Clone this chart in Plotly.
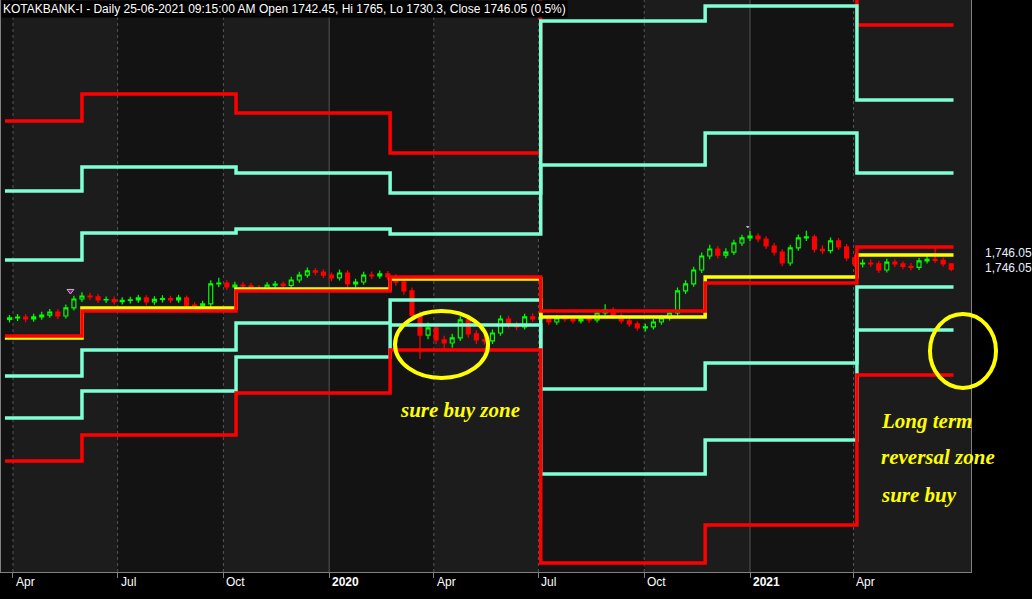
import plotly.graph_objects as go
import pandas as pd

# ---------------- data ----------------
title_text = "KOTAKBANK-I - Daily 25-06-2021 09:15:00 AM Open 1742.45, Hi 1765, Lo 1730.3, Close 1746.05 (0.5%)"

# weekly candles (Fridays) from 2019-03-29 to 2021-06-25
candle_dates = pd.date_range("2019-03-29", periods=118, freq="7D")
opens = [1330,1342,1348,1333,1350,1366,1391,1358,1425,1499,
         1524,1516,1491,1494,1478,1487,1491,1508,1474,1496,
         1503,1491,1508,1449,1441,1458,1624,1632,1599,1615,
         1608,1591,1582,1615,1622,1611,1657,1698,1732,1723,
         1698,1674,1715,1624,1640,1698,1690,1707,1682,1640,
         1566,1366,1200,1259,1159,1134,1176,1325,1209,1159,
         1151,1217,1333,1283,1267,1350,1333,1346,1308,1342,
         1333,1317,1333,1325,1383,1408,1358,1317,1292,1259,
         1267,1308,1342,1383,1566,1624,1740,1856,1914,1864,
         1889,1964,2006,2022,1997,1939,1889,1798,1923,2006,
         2014,1912,1900,1981,1931,1840,1790,1798,1790,1740,
         1806,1790,1770,1762,1815,1828,1820,1790]
closes = [1342,1348,1333,1350,1366,1391,1358,1425,1499,1524,
          1516,1491,1494,1478,1487,1491,1508,1474,1496,1503,
          1491,1508,1449,1441,1458,1624,1632,1599,1615,1608,
          1591,1582,1615,1622,1611,1657,1698,1732,1723,1698,
          1674,1715,1624,1640,1698,1690,1707,1682,1640,1566,
          1366,1200,1259,1159,1134,1176,1325,1209,1159,1151,
          1217,1333,1283,1267,1350,1333,1346,1308,1342,1333,
          1317,1333,1325,1383,1408,1358,1317,1292,1259,1267,
          1308,1342,1383,1566,1624,1740,1856,1914,1864,1889,
          1964,2006,2022,1997,1939,1889,1798,1923,2006,2014,
          1912,1900,1981,1931,1840,1790,1798,1790,1740,1806,
          1790,1770,1762,1815,1828,1820,1790,1746.05]
highs = [1367,1375,1373,1377,1393,1417,1415,1453,1527,1555,
         1551,1540,1519,1520,1513,1517,1535,1531,1521,1530,
         1527,1535,1529,1473,1485,1655,1675,1655,1643,1641,
         1631,1615,1641,1649,1645,1683,1725,1760,1757,1745,
         1720,1743,1737,1667,1725,1727,1735,1731,1705,1663,
         1595,1395,1305,1290,1195,1210,1355,1350,1240,1195,
         1245,1365,1360,1310,1377,1380,1373,1367,1367,1365,
         1355,1357,1355,1407,1455,1430,1380,1337,1313,1293,
         1333,1365,1407,1595,1655,1767,1885,1950,1940,1920,
         1990,2033,2064,2045,2020,1963,1913,1950,2035,2065,
         2035,1945,2010,2005,1955,1865,1830,1827,1815,1833,
         1830,1813,1797,1840,1853,1935,1841,1765]
lows = [1303,1317,1307,1310,1327,1343,1333,1337,1403,1475,
        1490,1465,1465,1453,1453,1461,1467,1448,1451,1471,
        1465,1467,1423,1413,1415,1435,1597,1573,1575,1581,
        1565,1555,1560,1590,1585,1589,1635,1675,1697,1673,
        1647,1653,1597,1599,1617,1665,1667,1657,1610,1535,
        1325,1001,1165,1125,1085,1095,1150,1180,1125,1120,
        1125,1195,1255,1240,1245,1310,1307,1283,1285,1310,
        1293,1295,1300,1303,1360,1335,1293,1267,1235,1230,
        1245,1285,1320,1363,1541,1600,1715,1830,1835,1837,
        1865,1940,1980,1970,1915,1860,1770,1775,1900,1980,
        1885,1870,1877,1905,1815,1765,1760,1765,1715,1720,
        1765,1745,1737,1740,1793,1797,1767,1730.3]

# pivot periods (start dates) and end date
period_starts = ["2019-03-25", "2019-05-31", "2019-10-12", "2020-02-23",
                 "2020-07-03", "2020-11-23", "2021-04-04"]
period_end = "2021-06-27"
r3 = [2977, 3201, 3043, 2711, 5019, 4977, 3774]
r2 = [2396, 2595, 2545, 2379, 3807, 3931, 3151]
r1 = [1823, 2047, 2080, 2039, 2612, 2877, 2545]
pivot_red = [1192, 1400, 1566, 1682, 1400, 1632, 1931]
pivot_yellow = [1176, 1425, 1582, 1665, 1350, 1682, 1864]
s1 = [860, 1076, 1300, 1491, 752, 968, 1599]
s2 = [512, 736, 1018, 1283, 47, 329, 1242]
s3 = [155, 371, 719, 1076, -692, -377, 868]

tick_dates = ["2019-04-01", "2019-07-01", "2019-10-01", "2020-01-01", "2020-04-01",
              "2020-07-01", "2020-10-01", "2021-01-01", "2021-04-01"]
tick_labels = ["Apr", "Jul", "Oct", "<b>2020</b>", "Apr", "Jul", "Oct", "<b>2021</b>", "Apr"]
light_quarters = [("2019-04-01", "2019-07-01"), ("2019-10-01", "2020-01-01"),
                  ("2020-04-01", "2020-07-01"), ("2020-10-01", "2021-01-01"),
                  ("2021-04-01", "2021-07-15")]
marker_dates = ["2019-05-21", "2020-12-30"]
marker_prices = [1566, 2097]
last_close_label = "1,746.05"

x_range = ["2019-03-21 14:00", "2021-07-12 05:00"]
y_range = [-767, 3981]

# ---------------- figure ----------------
RED = "#FF0000"
CYAN = "#7FFFD4"
YELLOW = "#FFFF00"

fig = go.Figure()

xs = period_starts + [period_end]
levels = [(r3, RED), (r2, CYAN), (r1, CYAN), (s1, CYAN), (s2, CYAN), (s3, RED),
          (pivot_yellow, YELLOW), (pivot_red, RED)]
for vals, col in levels:
    fig.add_trace(go.Scatter(x=xs, y=vals + [vals[-1]], mode="lines",
                             line=dict(color=col, width=3.5, shape="hv"),
                             hoverinfo="skip", showlegend=False))

fig.add_trace(go.Candlestick(
    x=candle_dates, open=opens, high=highs, low=lows, close=closes,
    increasing=dict(line=dict(color="#00FF00", width=1.2), fillcolor="rgba(0,0,0,0)"),
    decreasing=dict(line=dict(color=RED, width=1.2), fillcolor=RED),
    whiskerwidth=0, showlegend=False))

fig.add_trace(go.Scatter(x=marker_dates, y=marker_prices, mode="markers",
                         marker=dict(symbol="triangle-down", size=[6, 2], color="#D000D0"),
                         hoverinfo="skip", showlegend=False))

shapes = []
for a, b in light_quarters:
    shapes.append(dict(type="rect", xref="x", yref="paper", x0=a, x1=b, y0=0, y1=1,
                       fillcolor="#1c1c1c", line=dict(width=0), layer="below"))
for d, lab in zip(tick_dates, tick_labels):
    is_year = lab.startswith("<b>")
    shapes.append(dict(type="line", xref="x", yref="paper", x0=d, x1=d, y0=0, y1=1,
                       line=dict(color="#555555", width=1, dash="solid" if is_year else "dot"),
                       layer="below"))
# highlight ellipses
shapes.append(dict(type="circle", xref="paper", yref="paper", x0=0.4062, x1=0.5021,
                   y0=0.3392, y1=0.4563, line=dict(color=YELLOW, width=4)))
shapes.append(dict(type="circle", xref="paper", yref="paper", x0=0.9577, x1=1.0258,
                   y0=0.3217, y1=0.451, line=dict(color=YELLOW, width=4)))

annotations = []
for d, lab in zip(tick_dates, tick_labels):
    annotations.append(dict(x=d, y=0, xref="x", yref="paper", text=lab, showarrow=False,
                            xanchor="left", yanchor="top", xshift=1, yshift=-1,
                            font=dict(family="Liberation Sans, Arial", size=12, color="#FFFFFF")))
annotations.append(dict(x=0, y=1, xref="paper", yref="paper", text=title_text, showarrow=False,
                        xanchor="left", yanchor="top", bgcolor="#000000", borderpad=1,
                        font=dict(family="Liberation Sans, Arial", size=12, color="#FFFFFF")))
for yp in [0.5577, 0.5315]:
    annotations.append(dict(x=1, y=yp, xref="paper", yref="paper", text=last_close_label,
                            showarrow=False, xanchor="left", yanchor="middle", xshift=12,
                            font=dict(family="Liberation Sans, Arial", size=12, color="#E8F0FF")))
txt_font = dict(family="Liberation Serif, Times New Roman", size=21, color=YELLOW,
                style="italic", weight="bold")
annotations.append(dict(x=0.4093, y=1 - 410 / 572, xref="paper", yref="paper",
                        text="sure buy zone", showarrow=False, xanchor="left",
                        yanchor="middle", font=txt_font))
for txt, py in [("Long term", 421), ("reversal zone", 457), ("sure buy", 495)]:
    annotations.append(dict(x=0.9052, y=1 - py / 572, xref="paper", yref="paper",
                            text=txt, showarrow=False, xanchor="left",
                            yanchor="middle", font=txt_font))

fig.update_layout(
    width=1032, height=599,
    margin=dict(l=1, r=61, t=0, b=27),
    paper_bgcolor="#000000", plot_bgcolor="#131313",
    shapes=shapes, annotations=annotations,
    showlegend=False, hovermode=False,
    xaxis=dict(type="date", range=x_range, rangeslider=dict(visible=False),
               showgrid=False, zeroline=False, tickvals=tick_dates, showticklabels=False,
               ticks="outside", ticklen=5, tickcolor="#808080",
               showline=True, linecolor="#808080", linewidth=1),
    yaxis=dict(range=y_range, showgrid=False, zeroline=False, showticklabels=False,
               showline=True, mirror=True, linecolor="#808080", linewidth=1, ticks=""),
)

fig.write_html("out.html", config={"displayModeBar": False},
               post_script="document.body.style.margin='0';document.body.style.background='#000';")
